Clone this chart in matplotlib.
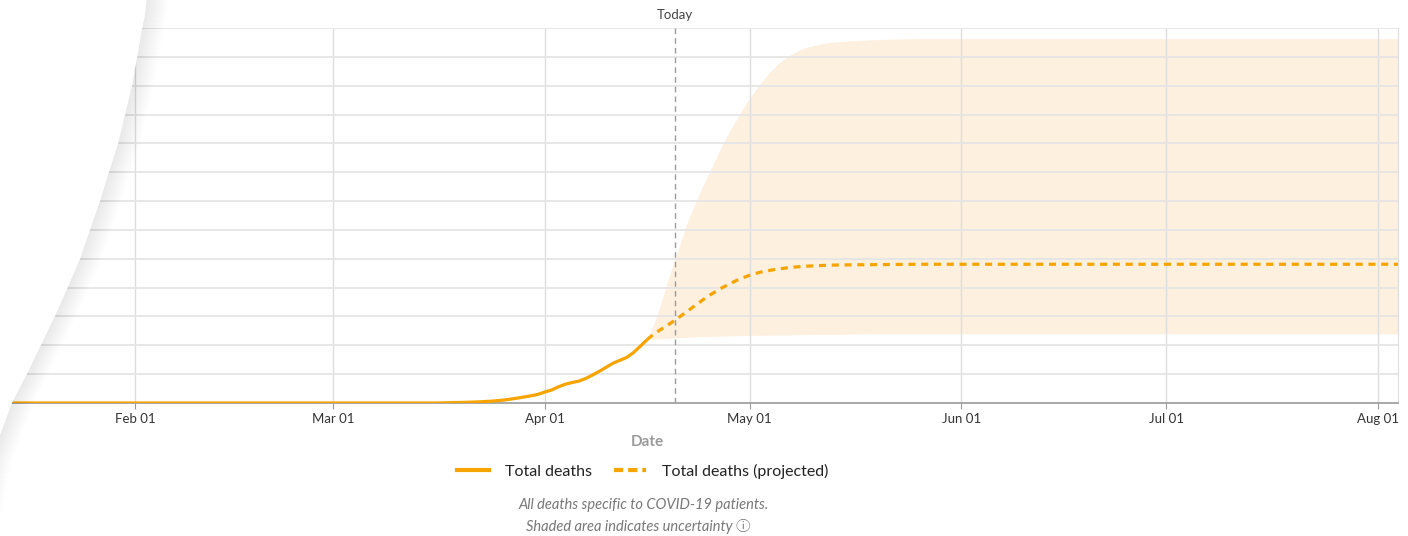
import matplotlib
matplotlib.use('Agg')
import matplotlib.pyplot as plt
import matplotlib.dates as mdates
from matplotlib.patches import Polygon
from matplotlib.lines import Line2D
import numpy as np
import pandas as pd

plt.rcParams['font.family'] = ['Lato', 'Noto Sans CJK JP', 'DejaVu Sans']

# ---- data (values in grid units, one unit per horizontal gridline) ----
actual_dates = ['2020-01-10', '2020-03-16', '2020-03-18', '2020-03-20', '2020-03-22',
                '2020-03-24', '2020-03-26', '2020-03-28', '2020-03-30', '2020-03-31',
                '2020-04-01', '2020-04-02', '2020-04-03', '2020-04-04', '2020-04-05',
                '2020-04-06', '2020-04-07', '2020-04-08', '2020-04-09', '2020-04-10',
                '2020-04-11', '2020-04-12', '2020-04-13', '2020-04-14', '2020-04-15',
                '2020-04-16']
actual_deaths = [0, 0, 0.01, 0.02, 0.035, 0.06, 0.1, 0.17, 0.25, 0.3,
                 0.38, 0.45, 0.56, 0.65, 0.71, 0.76, 0.85, 0.97, 1.1, 1.24,
                 1.38, 1.48, 1.58, 1.75, 1.97, 2.2]

# projection: days after Apr 01
proj_days = [15, 16, 17, 18, 19, 20, 21, 22, 23, 24, 25, 26, 27, 28, 29, 30,
             31, 32, 33, 34, 35, 36, 37, 38, 40, 42, 45, 50, 55, 125]
proj_mean = [2.2, 2.4, 2.55, 2.7, 2.86, 3.03, 3.2, 3.38, 3.55, 3.72,
             3.86, 4.0, 4.12, 4.24, 4.34, 4.43, 4.5, 4.56, 4.6, 4.64,
             4.67, 4.7, 4.72, 4.74, 4.76, 4.78, 4.79, 4.8, 4.81, 4.81]
proj_upper = [2.2, 2.75, 3.45, 4.25, 4.95, 5.65, 6.35, 6.9, 7.45, 7.95,
              8.45, 8.95, 9.4, 9.8, 10.2, 10.55, 10.9, 11.2, 11.48, 11.72,
              11.92, 12.07, 12.2, 12.31, 12.43, 12.51, 12.56, 12.61, 12.63, 12.63]
proj_lower = [2.2, 2.21, 2.23, 2.24, 2.26, 2.27, 2.28, 2.29, 2.3, 2.31,
              2.32, 2.32, 2.33, 2.33, 2.34, 2.34, 2.35, 2.35, 2.35, 2.36,
              2.36, 2.36, 2.37, 2.37, 2.38, 2.38, 2.39, 2.4, 2.4, 2.4]

today = '2020-04-20'
month_ticks = ['2020-02-01', '2020-03-01', '2020-04-01', '2020-05-01',
               '2020-06-01', '2020-07-01', '2020-08-01']

orange = '#f7a400'
shade = '#fdf0de'

a_dates = pd.to_datetime(actual_dates)
p_dates = pd.Timestamp('2020-04-01') + pd.to_timedelta(proj_days, unit='D')

# ---- figure ----
W, H = 1408, 536
fig = plt.figure(figsize=(W / 100, H / 100), dpi=100)
ax = fig.add_axes([10 / W, 1 - 403 / H, 1388 / W, 375 / H])

ax.fill_between(p_dates, proj_lower, proj_upper, color=shade, lw=0, zorder=1)
ax.plot(a_dates, actual_deaths, color=orange, lw=2.3, solid_capstyle='butt', zorder=3)
ax.plot(p_dates, proj_mean, color=orange, lw=2.3, dashes=(2.2, 1.8), zorder=3)
ax.axvline(pd.Timestamp(today), color='#9a9a9a', lw=1, dashes=(4, 3), zorder=2.5)

ax.set_xlim(pd.Timestamp('2020-02-01') - pd.Timedelta(days=18.3),
            pd.Timestamp('2020-08-01') + pd.Timedelta(days=2.93))
ax.set_ylim(0, 13)

ax.set_xticks(pd.to_datetime(month_ticks))
ax.xaxis.set_major_formatter(mdates.DateFormatter('%b %d'))
ax.set_yticks(np.arange(1, 14))
ax.set_yticklabels([])
ax.tick_params(axis='y', length=0)
ax.tick_params(axis='x', length=4, color='#999999', pad=3, labelsize=9.5, labelcolor='#333333')
ax.set_axisbelow('line')
ax.grid(axis='y', color='#e5e5e5', lw=1.3)
ax.grid(axis='x', color='#dddddd', lw=1)
for s in ['left', 'top']:
    ax.spines[s].set_visible(False)
ax.spines['right'].set_color('#dddddd')
ax.spines['bottom'].set_color('#9a9a9a')
ax.spines['bottom'].set_linewidth(1.2)

ax.text(pd.Timestamp(today), 13.32, 'Today', ha='center', va='baseline',
        fontsize=9.5, color='#444444')

# ---- labels / legend / footer ----
fig.text(647 / W, 1 - 442 / H, 'Date', ha='center', va='center',
         fontsize=11, fontweight='bold', color='#9a9a9a')

handles = [Line2D([], [], color=orange, lw=3),
           Line2D([], [], color=orange, lw=3, dashes=(2.2, 1.2))]
fig.legend(handles, ['Total deaths', 'Total deaths (projected)'], ncol=2,
           loc='center', bbox_to_anchor=(643 / W, 1 - 471 / H), frameon=False,
           fontsize=11.5, handlelength=2.0, handletextpad=1.0, columnspacing=1.4,
           labelcolor='#222222')

fig.text(644 / W, 1 - 505 / H, 'All deaths specific to COVID-19 patients.',
         ha='center', va='center', fontsize=10.5, style='italic', color='#777777')
fig.text(638 / W, 1 - 527 / H, 'Shaded area indicates uncertainty \u24d8',
         ha='center', va='center', fontsize=10.5, style='italic', color='#777777')

# ---- curled page edge over the left side ----
edge_x = [147, 145, 142, 137, 132, 125, 118, 109, 100, 90, 80, 68, 55, 41, 27, 12, 2, -10, -30]
edge_y = [-5, 15, 29, 58, 86, 115, 144, 172, 201, 230, 259, 287, 316, 345, 374, 403, 430, 460, 560]


def page(dx):
    pts = [(x + dx, y) for x, y in zip(edge_x, edge_y)] + [(-40, 560), (-40, -5)]
    return [(x / W, 1 - y / H) for x, y in pts]


for i in range(22, 0, -1):
    fig.patches.append(Polygon(page(i), closed=True, transform=fig.transFigure,
                               facecolor='black', alpha=0.0035, lw=0, zorder=5))
fig.patches.append(Polygon(page(0), closed=True, transform=fig.transFigure,
                           facecolor='white', lw=0, zorder=6))

fig.savefig('out.png', dpi=100)
